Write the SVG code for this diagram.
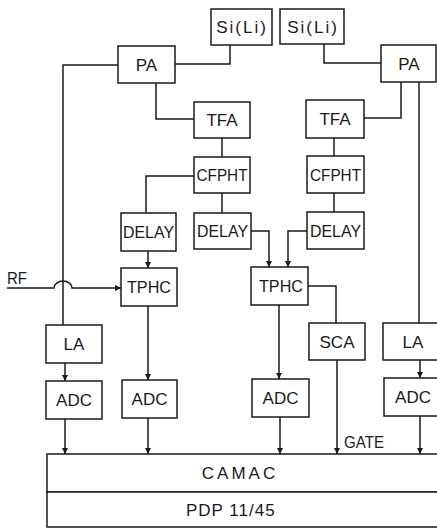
<svg xmlns="http://www.w3.org/2000/svg" width="437" height="528" viewBox="0 0 437 528">
<style>
.b{fill:#fff;stroke:#1a1a1a;stroke-width:1.5}
.t{font-family:"Liberation Sans",Arial,sans-serif;font-size:17px;fill:#1a1a1a;text-anchor:middle}
.n{font-size:17px}
.w{stroke:#1a1a1a;stroke-width:1.5;fill:none}
.a{marker-end:url(#ah)}
</style>
<defs>
<marker id="ah" markerUnits="userSpaceOnUse" markerWidth="7" markerHeight="7" refX="6" refY="3" orient="auto">
<path d="M0,0 L6,3 L0,6 z" fill="#1a1a1a"/>
</marker>
</defs>
<rect width="437" height="528" fill="#fff"/>
<g id="connectors">
<path class="w" d="M230,45 V64 H175"/>
<path class="w" d="M324,44 V63 H381"/>
<path class="w" d="M118,65 H63 V325"/>
<path class="w" d="M156,83 V119 H194"/>
<path class="w" d="M222,138 V157"/>
<path class="w" d="M194,176 H146 V213"/>
<path class="w" d="M222,193 V213"/>
<path class="w a" d="M148,251 V268"/>
<path class="w a" d="M7,288 H54 A9,7 0 0 1 72,288 H121"/>
<path class="w a" d="M251,231 H269 V267"/>
<path class="w" d="M401,82 V118 H364"/>
<path class="w" d="M419,82 V323"/>
<path class="w" d="M334,138 V156"/>
<path class="w" d="M334,193 V212"/>
<path class="w a" d="M307,231 H288 V267"/>
<path class="w a" d="M148,306 V380"/>
<path class="w" d="M308,286 H336 V323"/>
<path class="w a" d="M279,305 V379"/>
<path class="w a" d="M65,363 V381"/>
<path class="w a" d="M420,360 V378"/>
<path class="w a" d="M65,419 V454"/>
<path class="w a" d="M148,418 V454"/>
<path class="w a" d="M280,417 V454"/>
<path class="w a" d="M337,360 V454"/>
<path class="w a" d="M420,416 V454"/>
</g>
<g id="sili1"><rect class="b" x="211" y="9" width="61" height="36"/><text class="t" x="242" y="33" style="letter-spacing:2px">Si(Li)</text></g>
<g id="sili2"><rect class="b" x="280" y="9" width="64" height="35"/><text class="t" x="313" y="33" style="letter-spacing:2px">Si(Li)</text></g>
<g id="pa1"><rect class="b" x="118" y="46" width="57" height="37"/><text class="t" x="146.5" y="71">PA</text></g>
<g id="pa2"><rect class="b" x="381" y="45" width="55" height="37"/><text class="t" x="409" y="70">PA</text></g>
<g id="tfa1"><rect class="b" x="194" y="102" width="56" height="36"/><text class="t" x="222" y="126">TFA</text></g>
<g id="tfa2"><rect class="b" x="306" y="100" width="58" height="38"/><text class="t" x="335" y="125">TFA</text></g>
<g id="cfpht1"><rect class="b" x="194" y="157" width="56" height="36"/><text class="t" x="222" y="181" textLength="51" lengthAdjust="spacingAndGlyphs">CFPHT</text></g>
<g id="cfpht2"><rect class="b" x="307" y="156" width="57" height="37"/><text class="t" x="335.5" y="181" textLength="51" lengthAdjust="spacingAndGlyphs">CFPHT</text></g>
<g id="delay1"><rect class="b" x="121" y="213" width="55" height="38"/><text class="t" x="148.5" y="238" textLength="51" lengthAdjust="spacingAndGlyphs">DELAY</text></g>
<g id="delay2"><rect class="b" x="194" y="213" width="57" height="36"/><text class="t" x="222.5" y="237" textLength="51" lengthAdjust="spacingAndGlyphs">DELAY</text></g>
<g id="delay3"><rect class="b" x="307" y="212" width="57" height="37"/><text class="t" x="335.5" y="237" textLength="51" lengthAdjust="spacingAndGlyphs">DELAY</text></g>
<g id="tphc1"><rect class="b" x="121" y="268" width="56" height="38"/><text class="t" x="149" y="293" textLength="44" lengthAdjust="spacingAndGlyphs">TPHC</text></g>
<g id="tphc2"><rect class="b" x="251" y="267" width="57" height="38"/><text class="t" x="281" y="292" textLength="44" lengthAdjust="spacingAndGlyphs">TPHC</text></g>
<g id="sca"><rect class="b" x="309" y="323" width="56" height="37"/><text class="t" x="337" y="348">SCA</text></g>
<g id="la1"><rect class="b" x="46" y="325" width="56" height="38"/><text class="t" x="74" y="350">LA</text></g>
<g id="la2"><rect class="b" x="383" y="323" width="60" height="37"/><text class="t" x="413" y="348">LA</text></g>
<g id="adc1"><rect class="b" x="46" y="381" width="56" height="38"/><text class="t" x="74" y="406">ADC</text></g>
<g id="adc2"><rect class="b" x="122" y="380" width="55" height="38"/><text class="t" x="149.5" y="405">ADC</text></g>
<g id="adc3"><rect class="b" x="252" y="379" width="57" height="38"/><text class="t" x="280.5" y="404">ADC</text></g>
<g id="adc4"><rect class="b" x="384" y="378" width="58" height="38"/><text class="t" x="413" y="403">ADC</text></g>
<g id="gate"><text class="t" x="344" y="448" style="text-anchor:start" textLength="40" lengthAdjust="spacingAndGlyphs">GATE</text></g>
<g id="rf"><text class="t" x="7" y="284" style="text-anchor:start" textLength="20" lengthAdjust="spacingAndGlyphs">RF</text></g>
<g id="camac"><rect class="b" x="47" y="454" width="400" height="38"/><text class="t" x="240" y="479" style="letter-spacing:3px">CAMAC</text></g>
<g id="pdp"><rect class="b" x="47" y="492" width="400" height="35"/><text class="t" x="186" y="516" style="text-anchor:start;letter-spacing:1px">PDP 11/45</text></g>
</svg>
